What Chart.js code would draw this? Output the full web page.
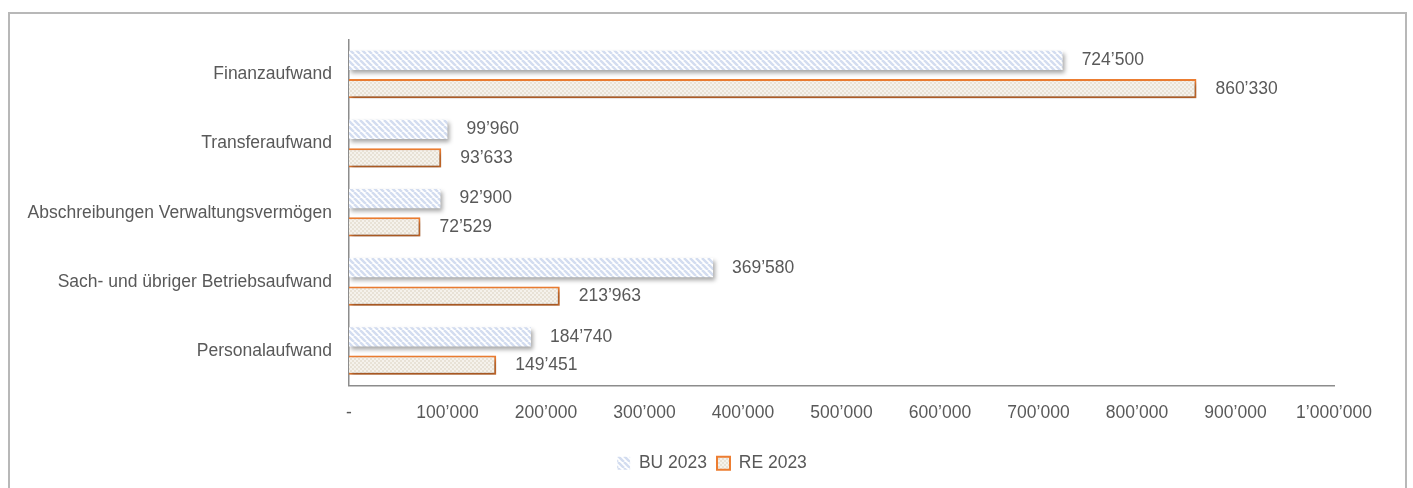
<!DOCTYPE html>
<html>
<head>
<meta charset="utf-8">
<script src="https://cdn.jsdelivr.net/npm/chart.js@4/dist/chart.umd.min.js"></script>
<style>
  html, body { margin: 0; padding: 0; background: #fff; overflow: hidden; }
  #frame {
    position: absolute; left: 8px; top: 12px; width: 1399px; height: 520px;
    border: 2px solid #b8b8b8; box-sizing: border-box;
  }
  #wrap { position: absolute; left: 0; top: 0; width: 1413px; height: 488px; }
</style>
</head>
<body>
<div id="frame"></div>
<div id="wrap"><canvas id="myChart" width="1413" height="488"></canvas></div>
<script>
// categories, top to bottom as in the picture
let categories = [
  'Finanzaufwand',
  'Transferaufwand',
  'Abschreibungen Verwaltungsvermögen',
  'Sach- und übriger Betriebsaufwand',
  'Personalaufwand'
];

// series values
let bu2023 = [724500, 99960, 92900, 369580, 184740];
let re2023 = [860330, 93633, 72529, 213963, 149451];

// x axis ticks
let xTicks = [0, 100000, 200000, 300000, 400000, 500000, 600000, 700000, 800000, 900000, 1000000];

// swiss style thousands: 724’500
function fmt(v) {
  if (v === 0) return '-';
  return String(Math.round(v)).replace(/\B(?=(\d{3})+(?!\d))/g, '\u2019');
}

// diagonal stripe pattern for BU
function stripePattern() {
  let c = document.createElement('canvas');
  c.width = 6; c.height = 6;
  let g = c.getContext('2d');
  g.fillStyle = '#ffffff';
  g.fillRect(0, 0, 6, 6);
  g.strokeStyle = '#d3ddf0';
  g.lineWidth = 2.5;
  g.beginPath();
  for (let k = -6; k <= 12; k += 6) {
    g.moveTo(k, 0);
    g.lineTo(k + 6, 6);
  }
  g.stroke();
  return g.createPattern(c, 'repeat');
}

// small checker pattern for RE
function dotPattern() {
  let c = document.createElement('canvas');
  c.width = 4; c.height = 4;
  let g = c.getContext('2d');
  g.fillStyle = '#f5f2ec';
  g.fillRect(0, 0, 4, 4);
  g.fillStyle = '#e8e2d6';
  g.fillRect(0, 0, 2, 2);
  g.fillRect(2, 2, 2, 2);
  return g.createPattern(c, 'repeat');
}

// shadow under the bars
const shadowPlugin = {
  id: 'shadow',
  beforeDatasetsDraw(chart) {
    let ctx = chart.ctx;
    ctx.save();
    ctx.shadowColor = 'rgba(0,0,0,0.35)';
    ctx.shadowBlur = 4;
    ctx.shadowOffsetX = 2;
    ctx.shadowOffsetY = 3;
  },
  afterDatasetsDraw(chart) {
    chart.ctx.restore();
  }
};

// value labels at the end of each bar
const labelPlugin = {
  id: 'valueLabels',
  afterDraw(chart) {
    let ctx = chart.ctx;
    ctx.save();
    ctx.font = '17.5px "Liberation Sans", Arial, sans-serif';
    ctx.fillStyle = '#595959';
    ctx.textBaseline = 'middle';
    ctx.textAlign = 'left';
    chart.data.datasets.forEach(function(ds, i) {
      let meta = chart.getDatasetMeta(i);
      meta.data.forEach(function(bar, j) {
        ctx.fillText(fmt(ds.data[j]), bar.x + 19, bar.y);
      });
    });
    ctx.restore();
  }
};

Chart.defaults.font.family = '"Liberation Sans", Arial, sans-serif';
Chart.defaults.font.size = 17.5;
Chart.defaults.color = '#595959';

const myChart = new Chart(document.getElementById('myChart'), {
  type: 'bar',
  data: {
    labels: categories,
    datasets: [{
      label: 'BU 2023',
      data: bu2023,
      backgroundColor: stripePattern(),
      borderWidth: 0,
      barPercentage: 0.68,
      categoryPercentage: 0.82
    }, {
      label: 'RE 2023',
      data: re2023,
      backgroundColor: dotPattern(),
      borderColor: '#ed7d31',
      borderWidth: 2,
      barPercentage: 0.68,
      categoryPercentage: 0.82
    }]
  },
  options: {
    indexAxis: 'y',
    responsive: false,
    animation: false,
    devicePixelRatio: 1,
    layout: { padding: { left: 11, right: 0, top: 40, bottom: 6 } },
    scales: {
      x: {
        min: 0,
        max: 1000000,
        z: 1,
        afterBuildTicks(scale) {
          scale.ticks = xTicks.map(function(v) { return { value: v }; });
        },
        afterFit(scale) {
          scale.paddingRight = 79;
          scale.height += 4;
        },
        grid: { display: false, drawTicks: false },
        border: { display: true, color: '#8c8c8c', width: 1.5 },
        ticks: {
          padding: 17,
          maxRotation: 0,
          autoSkip: false,
          callback: function(v) { return fmt(v); }
        }
      },
      y: {
        z: 1,
        grid: { display: false, drawTicks: false },
        border: { display: true, color: '#8c8c8c', width: 1.5 },
        afterFit(scale) { scale.width = 338; },
        ticks: { padding: 17, autoSkip: false }
      }
    },
    plugins: {
      legend: {
        position: 'bottom',
        labels: {
          boxWidth: 13,
          boxHeight: 13,
          padding: 10,
          color: '#595959'
        }
      },
      tooltip: { enabled: false }
    }
  },
  plugins: [shadowPlugin, labelPlugin]
});
</script>
</body>
</html>
